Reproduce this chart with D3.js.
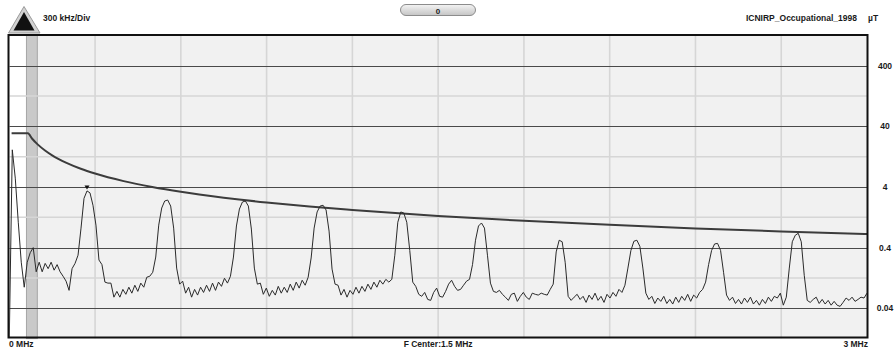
<!DOCTYPE html>
<html>
<head>
<meta charset="utf-8">
<script src="https://cdn.jsdelivr.net/npm/d3@7"></script>
<style>
  html, body { margin: 0; padding: 0; background: #ffffff; }
  svg { display: block; }
  text { font-family: "Liberation Sans", Arial, sans-serif; font-weight: bold; fill: #1a1a1a; }
</style>
</head>
<body>
<svg id="chart" width="894" height="348"></svg>
<script>
// Sweep settings (MHz)
const spanStart = 0;
const spanStop = 3;
const divisionStep = 0.3;
const centerLabel = "F Center:1.5 MHz";
const startLabel = "0 MHz";
const stopLabel = "3 MHz";
const divLabel = "300 kHz/Div";
const limitName = "ICNIRP_Occupational_1998";
const unitLabel = "µT";
const refLevelLabel = "0";

// Level axis ticks (µT)
const levelTicks = [400, 40, 4, 0.4, 0.04];
const levelTickLabels = ["400", "40", "4", "0.4", "0.04"];

// Excluded low-frequency band (MHz)
const blankBand = [0, 0.06];
const shadedBand = [0.06, 0.098];

// Reference limit curve (MHz, µT)
const limitFreq = [0.008, 0.065, 0.08, 0.1, 0.125, 0.15, 0.2, 0.25, 0.3, 0.4, 0.5, 0.6, 0.75, 0.9, 1.05, 1.2, 1.5, 1.8, 2.1, 2.4, 2.7, 3.0];
const limitValue = [30.7, 30.7, 25, 20, 16, 13.3, 10, 8, 6.67, 5, 4, 3.33, 2.67, 2.22, 1.9, 1.67, 1.33, 1.11, 0.95, 0.83, 0.74, 0.67];

// Measured trace, equally spaced sweep points across the span (µT)
const traceValue = [
  0.013, 16.4, 5.6, 1.05, 0.23, 0.089, 0.23, 0.33, 0.40, 0.16,
  0.23, 0.16, 0.22, 0.18, 0.23, 0.17, 0.21, 0.16, 0.135, 0.112,
  0.079, 0.18, 0.22, 0.30, 0.84, 2.6, 3.45, 3.2, 2.0, 0.94,
  0.25, 0.21, 0.108, 0.104, 0.104, 0.061, 0.076, 0.061, 0.082, 0.068,
  0.089, 0.071, 0.096, 0.076, 0.104, 0.089, 0.13, 0.135, 0.157, 0.28,
  0.94, 1.8, 2.35, 2.44, 1.94, 0.84, 0.184, 0.10, 0.112, 0.071,
  0.089, 0.061, 0.082, 0.066, 0.089, 0.073, 0.096, 0.076, 0.104, 0.079,
  0.108, 0.092, 0.125, 0.104, 0.135, 0.28, 0.91, 1.73, 2.26, 2.35,
  1.94, 0.81, 0.184, 0.10, 0.104, 0.068, 0.086, 0.063, 0.079, 0.066,
  0.092, 0.071, 0.089, 0.073, 0.10, 0.079, 0.108, 0.086, 0.116, 0.096,
  0.13, 0.27, 0.84, 1.55, 1.94, 2.0, 1.67, 0.75, 0.177, 0.10,
  0.096, 0.066, 0.082, 0.061, 0.079, 0.068, 0.089, 0.071, 0.092, 0.076,
  0.10, 0.082, 0.108, 0.089, 0.116, 0.10, 0.12, 0.108, 0.12, 0.30,
  1.05, 1.55, 1.49, 1.05, 0.36, 0.108, 0.092, 0.068, 0.063, 0.073,
  0.056, 0.054, 0.073, 0.086, 0.063, 0.061, 0.076, 0.10, 0.116, 0.092,
  0.079, 0.082, 0.096, 0.112, 0.12, 0.21, 0.53, 0.91, 1.02, 0.84,
  0.30, 0.104, 0.076, 0.073, 0.079, 0.068, 0.061, 0.054, 0.068, 0.071,
  0.052, 0.063, 0.073, 0.061, 0.056, 0.071, 0.068, 0.066, 0.071, 0.068,
  0.066, 0.082, 0.10, 0.34, 0.53, 0.50, 0.23, 0.063, 0.054, 0.061,
  0.068, 0.056, 0.063, 0.050, 0.066, 0.056, 0.071, 0.054, 0.063, 0.050,
  0.068, 0.059, 0.073, 0.063, 0.082, 0.073, 0.096, 0.184, 0.36, 0.51,
  0.53, 0.42, 0.184, 0.071, 0.056, 0.063, 0.048, 0.059, 0.052, 0.063,
  0.048, 0.056, 0.047, 0.061, 0.050, 0.063, 0.054, 0.068, 0.052, 0.066,
  0.059, 0.073, 0.082, 0.108, 0.21, 0.36, 0.46, 0.47, 0.36, 0.157,
  0.066, 0.054, 0.061, 0.048, 0.056, 0.047, 0.059, 0.050, 0.061, 0.047,
  0.054, 0.045, 0.056, 0.048, 0.061, 0.052, 0.063, 0.059, 0.071, 0.045,
  0.061, 0.184, 0.50, 0.64, 0.69, 0.50, 0.14, 0.054, 0.050, 0.056,
  0.061, 0.048, 0.056, 0.047, 0.054, 0.045, 0.052, 0.045, 0.043, 0.050,
  0.059, 0.054, 0.061, 0.052, 0.056, 0.061, 0.059, 0.071
];
const markerIndex = 26;

const svg = d3.select("#chart");
const plot = { left: 9.3, right: 867, top: 35.4, bottom: 338.6 };

// One decade per two divisions; half a decade of headroom above the top tick and below the bottom tick
const levelTop = levelTicks[0] * Math.sqrt(10);
const levelBottom = levelTicks[levelTicks.length - 1] / Math.sqrt(10);

const x = d3.scaleLinear().domain([spanStart, spanStop]).range([plot.left, plot.right]);
const y = d3.scaleLog().domain([levelTop, levelBottom]).range([plot.top, plot.bottom]);
const sweep = d3.scaleLinear().domain([0, traceValue.length - 1]).range([spanStart, spanStop]);

const defs = svg.append("defs");
defs.append("clipPath").attr("id", "plotClip")
  .append("rect").attr("x", plot.left).attr("y", plot.top)
  .attr("width", plot.right - plot.left).attr("height", plot.bottom - plot.top);
const btnGrad = defs.append("linearGradient").attr("id", "btnGrad")
  .attr("x1", 0).attr("y1", 0).attr("x2", 0).attr("y2", 1);
btnGrad.append("stop").attr("offset", "0%").attr("stop-color", "#f4f4f4");
btnGrad.append("stop").attr("offset", "100%").attr("stop-color", "#c4c4c4");

// Plot background and bands
svg.append("rect").attr("x", plot.left).attr("y", plot.top)
  .attr("width", plot.right - plot.left).attr("height", plot.bottom - plot.top)
  .attr("fill", "#f1f1f1");
svg.append("rect").attr("x", x(blankBand[0])).attr("y", plot.top)
  .attr("width", x(blankBand[1]) - x(blankBand[0])).attr("height", plot.bottom - plot.top)
  .attr("fill", "#ffffff");
svg.append("rect").attr("x", x(shadedBand[0])).attr("y", plot.top)
  .attr("width", x(shadedBand[1]) - x(shadedBand[0])).attr("height", plot.bottom - plot.top)
  .attr("fill", "#c9c9c9").attr("stroke", "#a6a6a6").attr("stroke-width", 1);

const g = svg.append("g").attr("clip-path", "url(#plotClip)");

// Vertical division lines
const divs = d3.range(1, Math.round((spanStop - spanStart) / divisionStep)).map(k => spanStart + k * divisionStep);
g.selectAll("line.vgrid").data(divs).enter().append("line")
  .attr("class", "vgrid")
  .attr("x1", d => x(d)).attr("x2", d => x(d))
  .attr("y1", plot.top).attr("y2", plot.bottom)
  .attr("stroke", "#d6d6d6").attr("stroke-width", 1.6);

// Half-decade lines between the labelled levels
const halfLevels = levelTicks.slice(1).map((v, i) => Math.sqrt(v * levelTicks[i]));
g.selectAll("line.hminor").data(halfLevels).enter().append("line")
  .attr("class", "hminor")
  .attr("x1", plot.left).attr("x2", plot.right)
  .attr("y1", d => y(d)).attr("y2", d => y(d))
  .attr("stroke", "#d6d6d6").attr("stroke-width", 1.6);

// Labelled level lines
g.selectAll("line.hmajor").data(levelTicks).enter().append("line")
  .attr("class", "hmajor")
  .attr("x1", plot.left).attr("x2", plot.right)
  .attr("y1", d => Math.round(y(d)) + 0.5).attr("y2", d => Math.round(y(d)) + 0.5)
  .attr("stroke", "#4a4a4a").attr("stroke-width", 1);

// Limit curve
const limitLine = d3.line()
  .x((d, i) => x(limitFreq[i]))
  .y(d => y(d))
  .curve(d3.curveMonotoneX);
g.append("path").datum(limitValue)
  .attr("d", limitLine)
  .attr("fill", "none").attr("stroke", "#3c3c3c").attr("stroke-width", 2);

// Measured trace
const traceLine = d3.line()
  .x((d, i) => x(sweep(i)))
  .y(d => y(d));
g.append("path").datum(traceValue)
  .attr("d", traceLine)
  .attr("fill", "none").attr("stroke", "#2a2a2a").attr("stroke-width", 1);

// Peak marker
const mx = x(sweep(markerIndex));
const my = y(traceValue[markerIndex]);
svg.append("path")
  .attr("d", `M${mx - 2.5},${my - 5.5} L${mx + 2.5},${my - 5.5} L${mx},${my - 1.5} Z`)
  .attr("fill", "#111");

// Frame
svg.append("rect").attr("x", 8.5).attr("y", 35).attr("width", 859).attr("height", 302.5)
  .attr("fill", "none").attr("stroke", "#111").attr("stroke-width", 2);

// Level labels on the right
svg.selectAll("text.lvl").data(levelTicks).enter().append("text")
  .attr("class", "lvl")
  .attr("x", 885).attr("y", d => y(d) + 3)
  .attr("text-anchor", "middle").attr("font-size", "8.5px")
  .text((d, i) => levelTickLabels[i]);

// Frequency labels
svg.append("text").attr("x", 9).attr("y", 347).attr("font-size", "8.5px").text(startLabel);
svg.append("text").attr("x", x((spanStart + spanStop) / 2)).attr("y", 347)
  .attr("text-anchor", "middle").attr("font-size", "8.5px").text(centerLabel);
svg.append("text").attr("x", 868).attr("y", 347)
  .attr("text-anchor", "end").attr("font-size", "8.5px").text(stopLabel);

// Header: scale-up arrow, division label, reference button, limit name and unit
svg.append("path").attr("d", "M8.5,33 L24,6.5 L40,33 Z")
  .attr("fill", "#d2d2d2").attr("stroke", "#9a9a9a").attr("stroke-width", 1);
svg.append("path").attr("d", "M13.5,30.5 L24,12 L34.5,30.5 Z").attr("fill", "#111");
svg.append("text").attr("x", 43).attr("y", 21).attr("font-size", "8.5px").text(divLabel);

svg.append("rect").attr("x", 400.5).attr("y", 4.5).attr("width", 75).attr("height", 11).attr("rx", 5.5)
  .attr("fill", "url(#btnGrad)").attr("stroke", "#8c8c8c");
svg.append("text").attr("x", 438).attr("y", 13.5).attr("text-anchor", "middle")
  .attr("font-size", "8px").attr("font-weight", "normal").text(refLevelLabel);

svg.append("text").attr("x", 857).attr("y", 21).attr("text-anchor", "end")
  .attr("font-size", "8.5px").text(limitName);
svg.append("text").attr("x", 868).attr("y", 21).attr("font-size", "8.5px").text(unitLabel);
</script>
</body>
</html>
